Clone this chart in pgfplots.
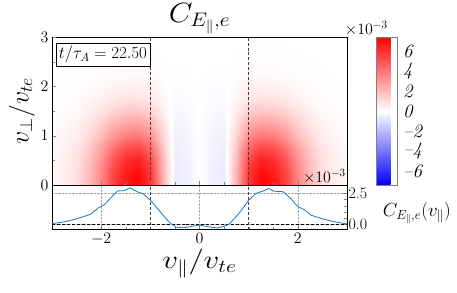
\RequirePackage{fix-cm}
\documentclass[border=0pt]{standalone}
\usepackage{graphicx}
\usepackage{pgfplots}
\pgfplotsset{compat=1.18}
\begin{document}
\begin{tikzpicture}
\path[use as bounding box] (-52bp,37bp) rectangle (405bp,-256bp);
\pgfplotsset{
  tickfont/.style={font=\fontsize{16}{19}\selectfont},
  colormap={bwr}{rgb=(0,0,1) rgb=(1,1,1) rgb=(1,0,0)},
}
\begin{axis}[name=main, at={(0,0)}, anchor=north west,
  scale only axis, width=295bp, height=148bp,
  xmin=-3, xmax=3, ymin=0, ymax=3,
  view={0}{90},
  xtick={-2,0,2}, xticklabels={}, minor x tick num=3,
  ytick={0,1,2,3}, minor y tick num=1,
  tick align=inside, xtick pos=bottom, ytick pos=left,
  yticklabel style={tickfont},
  ylabel={$v_\perp/v_{te}$}, ylabel style={font=\fontsize{26}{30}\selectfont, yshift=-1bp},
  title={\scalebox{1.1}[1]{$C_{E_\parallel,e}$}}, title style={font=\fontsize{28}{32}\selectfont, yshift=-6bp},
  colormap name=bwr, point meta min=-7.4, point meta max=7.4,
  colorbar right,
  colorbar style={scale only axis, width=21bp, height=148bp,
    at={(parent axis.north east)}, anchor=north west, xshift=21bp,
    ytick={-6,-4,-2,0,2,4,6},
    yticklabels={\textit{--6},\textit{--4},\textit{--2},\textit{0},\textit{2},\textit{4},\textit{6}},
    yticklabel style={font=\fontsize{19}{20}\selectfont, inner sep=0.5bp, xshift=5bp},
    major tick length=0pt, axis line style={gray}},
  axis line style={line width=0.6bp},
  clip mode=individual,
]
\addplot3[surf, shader=interp, mesh/cols=25] coordinates {
(-3,0,0.2) (-2.75,0,0.5) (-2.5,0,1.0) (-2.25,0,2.0) (-2,0,3.5) (-1.75,0,5.5) (-1.5,0,6.8) (-1.25,0,7.2) (-1,0,6.0) (-0.75,0,2.2) (-0.5,0,-0.6) (-0.25,0,-0.45) (0,0,0) (0.25,0,-0.45) (0.5,0,-0.6) (0.75,0,2.2) (1,0,6.0) (1.25,0,7.2) (1.5,0,6.8) (1.75,0,5.5) (2,0,3.5) (2.25,0,2.0) (2.5,0,1.0) (2.75,0,0.5) (3,0,0.2)

(-3,0.25,0.2) (-2.75,0.25,0.49) (-2.5,0.25,0.98) (-2.25,0.25,1.96) (-2,0.25,3.43) (-1.75,0.25,5.39) (-1.5,0.25,6.66) (-1.25,0.25,7.06) (-1,0.25,5.88) (-0.75,0.25,2.16) (-0.5,0.25,-0.6) (-0.25,0.25,-0.45) (0,0.25,0) (0.25,0.25,-0.45) (0.5,0.25,-0.6) (0.75,0.25,2.16) (1,0.25,5.88) (1.25,0.25,7.06) (1.5,0.25,6.66) (1.75,0.25,5.39) (2,0.25,3.43) (2.25,0.25,1.96) (2.5,0.25,0.98) (2.75,0.25,0.49) (3,0.25,0.2)

(-3,0.5,0.18) (-2.75,0.5,0.45) (-2.5,0.5,0.9) (-2.25,0.5,1.8) (-2,0.5,3.15) (-1.75,0.5,4.95) (-1.5,0.5,6.12) (-1.25,0.5,6.48) (-1,0.5,5.4) (-0.75,0.5,1.98) (-0.5,0.5,-0.57) (-0.25,0.5,-0.43) (0,0.5,0) (0.25,0.5,-0.43) (0.5,0.5,-0.57) (0.75,0.5,1.98) (1,0.5,5.4) (1.25,0.5,6.48) (1.5,0.5,6.12) (1.75,0.5,4.95) (2,0.5,3.15) (2.25,0.5,1.8) (2.5,0.5,0.9) (2.75,0.5,0.45) (3,0.5,0.18)

(-3,0.75,0.15) (-2.75,0.75,0.38) (-2.5,0.75,0.75) (-2.25,0.75,1.5) (-2,0.75,2.63) (-1.75,0.75,4.13) (-1.5,0.75,5.1) (-1.25,0.75,5.4) (-1,0.75,4.5) (-0.75,0.75,1.65) (-0.5,0.75,-0.51) (-0.25,0.75,-0.38) (0,0.75,0) (0.25,0.75,-0.38) (0.5,0.75,-0.51) (0.75,0.75,1.65) (1,0.75,4.5) (1.25,0.75,5.4) (1.5,0.75,5.1) (1.75,0.75,4.13) (2,0.75,2.63) (2.25,0.75,1.5) (2.5,0.75,0.75) (2.75,0.75,0.38) (3,0.75,0.15)

(-3,1,0.11) (-2.75,1,0.28) (-2.5,1,0.55) (-2.25,1,1.1) (-2,1,1.93) (-1.75,1,3.03) (-1.5,1,3.74) (-1.25,1,3.96) (-1,1,3.3) (-0.75,1,1.21) (-0.5,1,-0.42) (-0.25,1,-0.32) (0,1,0) (0.25,1,-0.32) (0.5,1,-0.42) (0.75,1,1.21) (1,1,3.3) (1.25,1,3.96) (1.5,1,3.74) (1.75,1,3.03) (2,1,1.93) (2.25,1,1.1) (2.5,1,0.55) (2.75,1,0.28) (3,1,0.11)

(-3,1.25,0.08) (-2.75,1.25,0.19) (-2.5,1.25,0.38) (-2.25,1.25,0.76) (-2,1.25,1.33) (-1.75,1.25,2.09) (-1.5,1.25,2.58) (-1.25,1.25,2.74) (-1,1.25,2.28) (-0.75,1.25,0.84) (-0.5,1.25,-0.33) (-0.25,1.25,-0.25) (0,1.25,0) (0.25,1.25,-0.25) (0.5,1.25,-0.33) (0.75,1.25,0.84) (1,1.25,2.28) (1.25,1.25,2.74) (1.5,1.25,2.58) (1.75,1.25,2.09) (2,1.25,1.33) (2.25,1.25,0.76) (2.5,1.25,0.38) (2.75,1.25,0.19) (3,1.25,0.08)

(-3,1.5,0.05) (-2.75,1.5,0.12) (-2.5,1.5,0.23) (-2.25,1.5,0.46) (-2,1.5,0.81) (-1.75,1.5,1.27) (-1.5,1.5,1.56) (-1.25,1.5,1.66) (-1,1.5,1.38) (-0.75,1.5,0.51) (-0.5,1.5,-0.24) (-0.25,1.5,-0.18) (0,1.5,0) (0.25,1.5,-0.18) (0.5,1.5,-0.24) (0.75,1.5,0.51) (1,1.5,1.38) (1.25,1.5,1.66) (1.5,1.5,1.56) (1.75,1.5,1.27) (2,1.5,0.81) (2.25,1.5,0.46) (2.5,1.5,0.23) (2.75,1.5,0.12) (3,1.5,0.05)

(-3,1.75,0.02) (-2.75,1.75,0.06) (-2.5,1.75,0.12) (-2.25,1.75,0.24) (-2,1.75,0.42) (-1.75,1.75,0.66) (-1.5,1.75,0.82) (-1.25,1.75,0.86) (-1,1.75,0.72) (-0.75,1.75,0.26) (-0.5,1.75,-0.15) (-0.25,1.75,-0.11) (0,1.75,0) (0.25,1.75,-0.11) (0.5,1.75,-0.15) (0.75,1.75,0.26) (1,1.75,0.72) (1.25,1.75,0.86) (1.5,1.75,0.82) (1.75,1.75,0.66) (2,1.75,0.42) (2.25,1.75,0.24) (2.5,1.75,0.12) (2.75,1.75,0.06) (3,1.75,0.02)

(-3,2,0.01) (-2.75,2,0.03) (-2.5,2,0.06) (-2.25,2,0.12) (-2,2,0.21) (-1.75,2,0.33) (-1.5,2,0.41) (-1.25,2,0.43) (-1,2,0.36) (-0.75,2,0.13) (-0.5,2,-0.08) (-0.25,2,-0.06) (0,2,0) (0.25,2,-0.06) (0.5,2,-0.08) (0.75,2,0.13) (1,2,0.36) (1.25,2,0.43) (1.5,2,0.41) (1.75,2,0.33) (2,2,0.21) (2.25,2,0.12) (2.5,2,0.06) (2.75,2,0.03) (3,2,0.01)

(-3,2.25,0.01) (-2.75,2.25,0.01) (-2.5,2.25,0.03) (-2.25,2.25,0.05) (-2,2.25,0.09) (-1.75,2.25,0.14) (-1.5,2.25,0.17) (-1.25,2.25,0.18) (-1,2.25,0.15) (-0.75,2.25,0.06) (-0.5,2.25,-0.03) (-0.25,2.25,-0.02) (0,2.25,0) (0.25,2.25,-0.02) (0.5,2.25,-0.03) (0.75,2.25,0.06) (1,2.25,0.15) (1.25,2.25,0.18) (1.5,2.25,0.17) (1.75,2.25,0.14) (2,2.25,0.09) (2.25,2.25,0.05) (2.5,2.25,0.03) (2.75,2.25,0.01) (3,2.25,0.01)

(-3,2.5,0) (-2.75,2.5,0.01) (-2.5,2.5,0.01) (-2.25,2.5,0.02) (-2,2.5,0.04) (-1.75,2.5,0.06) (-1.5,2.5,0.07) (-1.25,2.5,0.07) (-1,2.5,0.06) (-0.75,2.5,0.02) (-0.5,2.5,-0.01) (-0.25,2.5,-0.01) (0,2.5,0) (0.25,2.5,-0.01) (0.5,2.5,-0.01) (0.75,2.5,0.02) (1,2.5,0.06) (1.25,2.5,0.07) (1.5,2.5,0.07) (1.75,2.5,0.06) (2,2.5,0.04) (2.25,2.5,0.02) (2.5,2.5,0.01) (2.75,2.5,0.01) (3,2.5,0)

(-3,2.75,0) (-2.75,2.75,0) (-2.5,2.75,0) (-2.25,2.75,0.01) (-2,2.75,0.01) (-1.75,2.75,0.02) (-1.5,2.75,0.02) (-1.25,2.75,0.02) (-1,2.75,0.02) (-0.75,2.75,0.01) (-0.5,2.75,0) (-0.25,2.75,0) (0,2.75,0) (0.25,2.75,0) (0.5,2.75,0) (0.75,2.75,0.01) (1,2.75,0.02) (1.25,2.75,0.02) (1.5,2.75,0.02) (1.75,2.75,0.02) (2,2.75,0.01) (2.25,2.75,0.01) (2.5,2.75,0) (2.75,2.75,0) (3,2.75,0)

(-3,3,0) (-2.75,3,0) (-2.5,3,0) (-2.25,3,0) (-2,3,0) (-1.75,3,0) (-1.5,3,0) (-1.25,3,0) (-1,3,0) (-0.75,3,0) (-0.5,3,0) (-0.25,3,0) (0,3,0) (0.25,3,0) (0.5,3,0) (0.75,3,0) (1,3,0) (1.25,3,0) (1.5,3,0) (1.75,3,0) (2,3,0) (2.25,3,0) (2.5,3,0) (2.75,3,0) (3,3,0)
};
\addplot3[densely dashed, black!75, line width=0.8bp] coordinates {(-1,0,0) (-1,3,0)};
\addplot3[densely dashed, black!75, line width=0.8bp] coordinates {(1,0,0) (1,3,0)};
\node[draw=black, fill=white, line width=0.6bp, anchor=north west, inner sep=3bp,
  font=\fontsize{17}{20}\selectfont] at (rel axis cs:0.012,0.96) {$t/\tau_A = 22.50$};
\node[anchor=south east, inner sep=1bp, font=\fontsize{16}{19}\selectfont]
  at (rel axis cs:1.142,1.0) {$\times10^{-3}$};
\end{axis}

\begin{axis}[name=lower, at={(main.south west)}, anchor=north west,
  scale only axis, width=295bp, height=44.5bp,
  xmin=-3, xmax=3, ymin=-0.42, ymax=3.17,
  xtick={-2,0,2}, minor x tick num=3,
  ytick={0,2.5}, yticklabels={0.0,2.5}, minor y tick num=4,
  tick align=inside, xtick pos=bottom, ytick pos=right, yticklabel pos=right,
  xticklabel style={tickfont}, yticklabel style={tickfont, xshift=-2bp},
  grid=major, major grid style={densely dotted, gray!70, line width=0.5bp},
  xlabel={\scalebox{1.2}[1]{$v_\parallel/v_{te}$}}, xlabel style={font=\fontsize{26}{30}\selectfont, yshift=2bp},
  axis line style={line width=0.6bp},
  clip mode=individual,
]
\addplot[densely dashed, black, line width=1bp, forget plot] coordinates {(-3,0) (3,0)};
\addplot[densely dashed, black!75, line width=0.8bp] coordinates {(-1,-0.42) (-1,3.17)};
\addplot[densely dashed, black!75, line width=0.8bp] coordinates {(1,-0.42) (1,3.17)};
\addplot[color={rgb,255:red,31;green,119;blue,180}, line width=0.8bp] coordinates {
(-3,0.05) (-2.75,0.2) (-2.5,0.44) (-2.22,0.8) (-2.05,1.35) (-1.95,1.53) (-1.82,2.07) (-1.67,2.69) (-1.54,2.71) (-1.41,2.94) (-1.27,2.63) (-1.14,2.45) (-1.0,1.95) (-0.86,1.3) (-0.73,0.68) (-0.61,0.15) (-0.48,-0.22) (-0.32,-0.28) (-0.15,-0.16) (0,-0.06) (0.18,-0.2) (0.36,-0.3) (0.5,-0.15) (0.6,0.0) (0.8,0.86) (1.0,1.94) (1.14,2.47) (1.28,2.67) (1.41,2.88) (1.51,2.67) (1.7,2.63) (1.86,2.07) (1.99,1.45) (2.13,1.18) (2.27,0.73) (2.54,0.4) (2.78,0.17) (3,0.03)
};
\node[anchor=south east, inner sep=1bp, font=\fontsize{16}{19}\selectfont]
  at (rel axis cs:1,1) {$\times10^{-3}$};
\node[anchor=center, font=\fontsize{19}{21}\selectfont]
  at (rel axis cs:1.237,0.37) {$C_{E_\parallel,e}(v_\parallel)$};
\end{axis}
\end{tikzpicture}
\end{document}
